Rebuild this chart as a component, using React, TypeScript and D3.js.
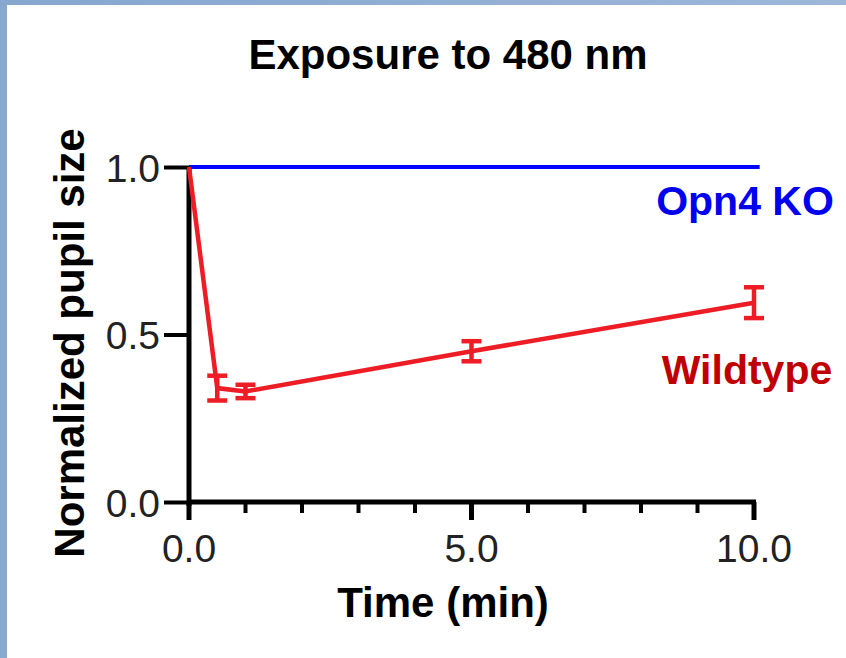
import React, { useEffect, useRef } from "react";
import * as d3 from "d3";

const timePoints = [0, 0.5, 1, 5, 10];
const wildtypeMeans = [1.0, 0.34, 0.33, 0.45, 0.595];
const wildtypeErrors = [0, 0.037, 0.02, 0.03, 0.046];
const knockoutTimes = [0, 10.1];
const knockoutValues = [1.0, 1.0];
const xMajorTicks = [0, 5, 10];
const xMinorTicks = [1, 2, 3, 4, 6, 7, 8, 9];
const yTicks = [0, 0.5, 1.0];

const W = 846;
const H = 658;
const FONT = "'Liberation Sans', Arial, Helvetica, sans-serif";

const App: React.FC = () => {
  const svgRef = useRef<SVGSVGElement | null>(null);

  useEffect(() => {
    if (!svgRef.current) return;
    const svg = d3.select(svgRef.current);
    svg.selectAll("*").remove();

    // page background and the light blue frame at top/left
    svg.append("rect").attr("width", W).attr("height", H).attr("fill", "#fff");
    const grad = svg
      .append("defs")
      .append("linearGradient")
      .attr("id", "frame")
      .attr("x1", 0)
      .attr("x2", 1);
    grad.append("stop").attr("offset", 0).attr("stop-color", "#86a6cf");
    grad.append("stop").attr("offset", 1).attr("stop-color", "#9cb7d8");
    svg.append("rect").attr("width", W).attr("height", 5).attr("fill", "url(#frame)");
    svg.append("rect").attr("width", 7).attr("height", H).attr("fill", "#88a8d0");

    const x = d3.scaleLinear().domain([0, 10]).range([189, 754]);
    const y = d3.scaleLinear().domain([0, 1]).range([502, 167]);

    // title
    svg
      .append("text")
      .attr("x", 448)
      .attr("y", 69)
      .attr("text-anchor", "middle")
      .attr("font-family", FONT)
      .attr("font-weight", "bold")
      .attr("font-size", 42)
      .attr("fill", "#000")
      .text("Exposure to 480 nm");

    // y axis
    const yAxis = d3
      .axisLeft(y)
      .tickValues(yTicks)
      .tickSize(25)
      .tickPadding(4)
      .tickFormat(d3.format(".1f"));
    const gy = svg.append("g").attr("transform", `translate(${x(0)},0)`).call(yAxis);
    gy.select(".domain").attr("stroke", "#000").attr("stroke-width", 5).attr("d", `M0,${y(1)}V${y(0) + 4}`);
    gy.selectAll(".tick line").attr("stroke", "#000").attr("stroke-width", 4);
    gy.selectAll(".tick text")
      .attr("font-family", FONT)
      .attr("font-size", 39)
      .attr("fill", "#222")
      .attr("dy", "0.36em");

    // x axis
    const gx = svg.append("g").attr("transform", `translate(0,${y(0)})`);
    gx.append("path")
      .attr("d", `M${x(0)},0H${x(10) + 2}`)
      .attr("stroke", "#000")
      .attr("stroke-width", 5);
    gx.selectAll(".major")
      .data(xMajorTicks)
      .enter()
      .append("line")
      .attr("x1", (d) => x(d))
      .attr("x2", (d) => x(d))
      .attr("y1", 0)
      .attr("y2", 18)
      .attr("stroke", "#000")
      .attr("stroke-width", 5);
    gx.selectAll(".minor")
      .data(xMinorTicks)
      .enter()
      .append("line")
      .attr("x1", (d) => x(d))
      .attr("x2", (d) => x(d))
      .attr("y1", 0)
      .attr("y2", 11)
      .attr("stroke", "#000")
      .attr("stroke-width", 4);
    gx.selectAll(".lbl")
      .data(xMajorTicks)
      .enter()
      .append("text")
      .attr("x", (d) => x(d))
      .attr("y", 60)
      .attr("text-anchor", "middle")
      .attr("font-family", FONT)
      .attr("font-size", 39)
      .attr("fill", "#222")
      .text((d) => d3.format(".1f")(d));

    // axis titles
    svg
      .append("text")
      .attr("x", 443)
      .attr("y", 617)
      .attr("text-anchor", "middle")
      .attr("font-family", FONT)
      .attr("font-weight", "bold")
      .attr("font-size", 42)
      .attr("fill", "#000")
      .text("Time (min)");
    svg
      .append("text")
      .attr("transform", "translate(84,343) rotate(-90)")
      .attr("text-anchor", "middle")
      .attr("font-family", FONT)
      .attr("font-weight", "bold")
      .attr("font-size", 42)
      .attr("fill", "#000")
      .text("Normalized pupil size");

    // Opn4 KO line
    const line = d3
      .line<number>()
      .x((_, i) => x(knockoutTimes[i]))
      .y((d) => y(d));
    svg
      .append("path")
      .datum(knockoutValues)
      .attr("d", line)
      .attr("fill", "none")
      .attr("stroke", "#0000ff")
      .attr("stroke-width", 4);

    // Wildtype line and error bars
    const red = "#ee1c24";
    const wtLine = d3
      .line<number>()
      .x((_, i) => x(timePoints[i]))
      .y((d) => y(d));
    svg
      .append("path")
      .datum(wildtypeMeans)
      .attr("d", wtLine)
      .attr("fill", "none")
      .attr("stroke", red)
      .attr("stroke-width", 4.5);

    const bars = wildtypeMeans
      .map((m, i) => ({ t: timePoints[i], m, e: wildtypeErrors[i] }))
      .filter((d) => d.e > 0);
    const eb = svg.append("g").attr("stroke", red).attr("stroke-width", 4.5);
    bars.forEach((d) => {
      const cx = x(d.t);
      eb.append("line").attr("x1", cx).attr("x2", cx).attr("y1", y(d.m + d.e)).attr("y2", y(d.m - d.e));
      [d.m + d.e, d.m - d.e].forEach((v) => {
        eb.append("line").attr("x1", cx - 10).attr("x2", cx + 10).attr("y1", y(v)).attr("y2", y(v));
      });
    });

    // series labels
    svg
      .append("text")
      .attr("x", 745)
      .attr("y", 215)
      .attr("text-anchor", "middle")
      .attr("font-family", FONT)
      .attr("font-weight", "bold")
      .attr("font-size", 41)
      .attr("fill", "#0000ee")
      .text("Opn4 KO");
    svg
      .append("text")
      .attr("x", 747)
      .attr("y", 384)
      .attr("text-anchor", "middle")
      .attr("font-family", FONT)
      .attr("font-weight", "bold")
      .attr("font-size", 41)
      .attr("fill", "#c00000")
      .text("Wildtype");
  }, []);

  return (
    <div style={{ position: "fixed", left: 0, top: 0, width: W, height: H }}>
      <svg ref={svgRef} width={W} height={H} style={{ display: "block" }}></svg>
    </div>
  );
};

export default App;
